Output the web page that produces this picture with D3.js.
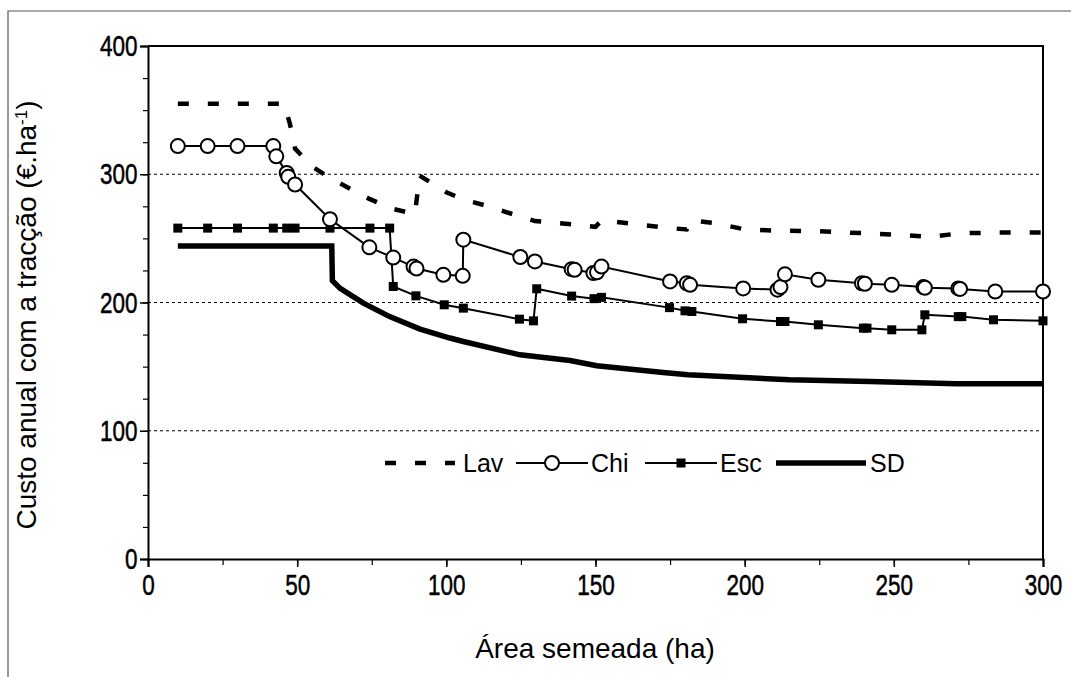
<!DOCTYPE html>
<html>
<head>
<meta charset="utf-8">
<script src="https://cdn.jsdelivr.net/npm/d3@7"></script>
<style>
  body { margin: 0; background: #fff; }
  text { font-family: "Liberation Sans", Arial, sans-serif; fill: #000; }
</style>
</head>
<body>
<div id="chart"></div>
<script>
// tick labels
const xTicks = [0, 50, 100, 150, 200, 250, 300];
const yTicks = [0, 100, 200, 300, 400];
const seriesNames = ['Lav', 'Chi', 'Esc', 'SD'];

// [area (ha), custo (€/ha)]
const lav = [[10,355],[20,355],[30,355],[42,355],[45.5,355],[47.5,340],[49.3,320],[55,306],[61,297],[74,281],
  [82,273],[89.5,269],[91,299],[100,286],[106,280],[112.6,276],[124.8,267],[129.7,263.5],[142,261],[150,259],
  [152,264],[162,261.5],[175,258],[180.6,257],[182,264],[190,262],[200,257],[211,256],[213,256],[225,255.5],
  [240,254],[250,253],[260,251.5],[262,251],[272,254],[285,254.5],[300,254.5]];
const chi = [[10,322],[20,322],[30,322],[42,322],[43,314],[46.5,301],[47,298],[49.3,292],[61,265],[74.2,243],
  [82.2,235],[89,228],[90,226.5],[99,221.6],[105.5,220.8],[105.7,249],[124.8,235.5],[129.7,232],[142,226],[143,225.5],
  [149.3,223],[150.5,223.5],[152,228],[175,216.4],[180.6,215],[181.7,213.8],[199.5,211],[211,210],[212,212],
  [213.5,222],[224.7,217.7],[239.3,215],[240.3,214.6],[249.3,213.8],[259.9,212],[260.4,211.5],[271.6,211],
  [272.2,210.6],[284,208.6],[300,208.6]];
const esc = [[10,258],[20,258],[30,258],[42,258],[46.5,258],[49.3,258],[61,258],[74.4,258],[81,258],[82.2,212.5],
  [89.8,205.2],[99.3,198.2],[105.7,195.6],[124.5,187],[129.2,185.7],[130.3,210.7],[142,205],[149.5,203],[152,204],
  [174.8,196],[180,193.5],[182.3,193],[199.3,187.3],[212,185.2],[213.5,185.2],[224.7,182.6],[239.8,180],[241,180],
  [249.3,178.7],[259.4,178.7],[260.4,190.4],[271.6,189],[272.8,189],[283.4,186.5],[300,185.7]];
const sd = [[10,244],[61.6,244],[61.8,217],[64.4,211],[72.2,199.5],[81,189],[91.2,179.3],[101.2,172.3],
  [105.7,169.6],[124.7,159.2],[141.5,154.8],[150.4,150.7],[172.7,145.4],[181,143.6],[215,139.7],[242,138.4],
  [271,136.6],[300,136.6]];

const width = 1071, height = 677;
const svg = d3.select('#chart').append('svg').attr('width', width).attr('height', height);

// outer frame of the figure
svg.append('path').attr('d', 'M8,' + height + ' L8,11 L' + width + ',11')
  .attr('fill', 'none').attr('stroke', '#555').attr('stroke-width', 1.2);

const x = d3.scaleLinear().domain([0, 300]).range([148, 1043]);
const y = d3.scaleLinear().domain([0, 400]).range([559, 46]);

// gridlines
svg.append('g').selectAll('line').data(yTicks.filter(d => d > 0 && d < 400)).enter().append('line')
  .attr('x1', x(0)).attr('x2', x(300)).attr('y1', d => y(d)).attr('y2', d => y(d))
  .attr('stroke', '#000').attr('stroke-width', 1).attr('stroke-dasharray', '3,3');

// minor ticks
svg.append('g').attr('transform', 'translate(0,' + y(0) + ')')
  .call(d3.axisBottom(x).tickValues(d3.range(0, 301, 25)).tickSize(6).tickFormat(''))
  .call(g => g.select('.domain').remove())
  .selectAll('line').attr('stroke-width', 1.2);
svg.append('g').attr('transform', 'translate(' + x(0) + ',0)')
  .call(d3.axisLeft(y).tickValues(d3.range(0, 401, 25)).tickSize(5).tickFormat(''))
  .call(g => g.select('.domain').remove())
  .selectAll('line').attr('stroke-width', 1.2);

// major axes
const xAxis = svg.append('g').attr('transform', 'translate(0,' + y(0) + ')')
  .call(d3.axisBottom(x).tickValues(xTicks).tickSize(8).tickPadding(7));
const yAxis = svg.append('g').attr('transform', 'translate(' + x(0) + ',0)')
  .call(d3.axisLeft(y).tickValues(yTicks).tickSize(8).tickPadding(6));
[xAxis, yAxis].forEach(a => {
  a.select('.domain').attr('stroke-width', 2);
  a.selectAll('line').attr('stroke-width', 1.5);
  a.selectAll('text').style('font-size', '30px').style('font-family', '"Liberation Sans", Arial, sans-serif')
    .attr('stroke', '#000').attr('stroke-width', 0.5)
    .attr('transform', 'scale(0.75,1)');
});

// plot frame (top / right)
svg.append('path')
  .attr('d', 'M' + x(0) + ',' + y(400) + ' L' + x(300) + ',' + y(400) + ' L' + x(300) + ',' + y(0))
  .attr('fill', 'none').attr('stroke', '#000').attr('stroke-width', 2);

const line = d3.line().x(d => x(d[0])).y(d => y(d[1]));

svg.append('path').datum(sd).attr('d', line)
  .attr('fill', 'none').attr('stroke', '#000').attr('stroke-width', 5.5);
svg.append('path').datum(lav).attr('d', line)
  .attr('fill', 'none').attr('stroke', '#000').attr('stroke-width', 4.5).attr('stroke-dasharray', '11,19');
svg.append('path').datum(esc).attr('d', line)
  .attr('fill', 'none').attr('stroke', '#000').attr('stroke-width', 2);
svg.append('path').datum(chi).attr('d', line)
  .attr('fill', 'none').attr('stroke', '#000').attr('stroke-width', 2);

svg.append('g').selectAll('rect').data(esc).enter().append('rect')
  .attr('x', d => x(d[0]) - 4.5).attr('y', d => y(d[1]) - 4.5)
  .attr('width', 9).attr('height', 9).attr('fill', '#000');
svg.append('g').selectAll('circle').data(chi).enter().append('circle')
  .attr('cx', d => x(d[0])).attr('cy', d => y(d[1])).attr('r', 7)
  .attr('fill', '#fff').attr('stroke', '#000').attr('stroke-width', 2);

// legend
const legY = 463;
const leg = svg.append('g').attr('class', 'legend');
leg.append('line').attr('x1', 385).attr('x2', 455).attr('y1', legY).attr('y2', legY)
  .attr('stroke', '#000').attr('stroke-width', 4.5).attr('stroke-dasharray', '11,19');
leg.append('line').attr('x1', 516).attr('x2', 588).attr('y1', legY).attr('y2', legY)
  .attr('stroke', '#000').attr('stroke-width', 2);
leg.append('circle').attr('cx', 552).attr('cy', legY).attr('r', 7)
  .attr('fill', '#fff').attr('stroke', '#000').attr('stroke-width', 2);
leg.append('line').attr('x1', 645).attr('x2', 717).attr('y1', legY).attr('y2', legY)
  .attr('stroke', '#000').attr('stroke-width', 2);
leg.append('rect').attr('x', 681 - 4.5).attr('y', legY - 4.5).attr('width', 9).attr('height', 9).attr('fill', '#000');
leg.append('line').attr('x1', 776).attr('x2', 866).attr('y1', legY).attr('y2', legY)
  .attr('stroke', '#000').attr('stroke-width', 5.5);
const legX = [463, 591, 720, 870];
leg.selectAll('text').data(seriesNames).enter().append('text')
  .attr('x', (d, i) => legX[i]).attr('y', legY).attr('dy', '0.36em')
  .style('font-size', '25px').text(d => d);

// axis titles
svg.append('text').attr('x', 595).attr('y', 658).attr('text-anchor', 'middle')
  .style('font-size', '28px').text('Área semeada (ha)');
const yt = svg.append('text').attr('transform', 'translate(36,315) rotate(-90)')
  .attr('text-anchor', 'middle').style('font-size', '28px');
yt.append('tspan').text('Custo anual com a tracção (€.ha');
yt.append('tspan').attr('baseline-shift', 'super').style('font-size', '17px').text('-1');
yt.append('tspan').text(')');
</script>
</body>
</html>
